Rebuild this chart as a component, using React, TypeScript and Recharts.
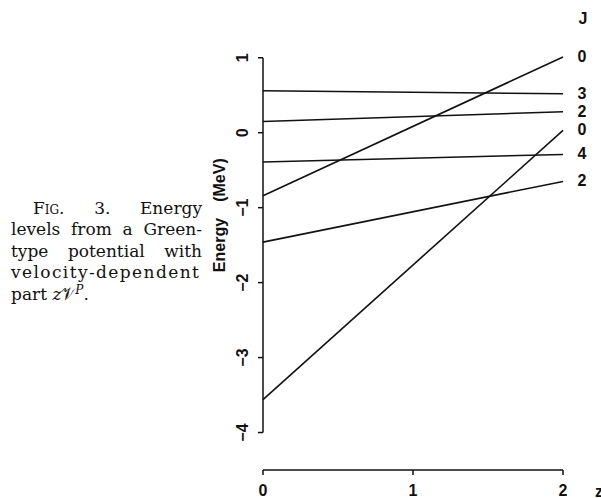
import React from 'react';
import { LineChart, Line, XAxis, YAxis, ReferenceLine } from 'recharts';

const zValues = [0, 2];
const levelJ0a = [-0.84, 1.01];
const levelJ3 = [0.56, 0.52];
const levelJ2a = [0.15, 0.28];
const levelJ0b = [-3.56, 0.03];
const levelJ4 = [-0.39, -0.29];
const levelJ2b = [-1.46, -0.65];
const jLabels = ['0', '3', '2', '0', '4', '2'];
const seriesKeys = ['s0', 's1', 's2', 's3', 's4', 's5'];
const seriesValues = [levelJ0a, levelJ3, levelJ2a, levelJ0b, levelJ4, levelJ2b];
const xTicks = [0, 1, 2];
const yTicks = [1, 0, -1, -2, -3, -4];

const data = zValues.map((z, i) => {
  const row: Record<string, number> = { z };
  seriesKeys.forEach((k, s) => {
    row[k] = seriesValues[s][i];
  });
  return row;
});

const tickFont = '"Liberation Sans", Arial, sans-serif';
const serifFont = '"DejaVu Serif", "Liberation Serif", serif';

const YTick = (props: any) => {
  const { x, y, payload } = props;
  const bx = x - 8;
  return (
    <text
      x={bx}
      y={y}
      transform={`rotate(-90, ${bx}, ${y})`}
      textAnchor="middle"
      fontFamily={tickFont}
      fontSize={16}
      fontWeight="bold"
      fill="#111"
    >
      {payload.value < 0 ? '\u2212' + Math.abs(payload.value) : String(payload.value)}
    </text>
  );
};

const XTick = (props: any) => {
  const { x, y, payload } = props;
  return (
    <text x={x} y={y + 19} textAnchor="middle" fontFamily={tickFont} fontSize={16} fontWeight="bold" fill="#111">
      {String(payload.value)}
    </text>
  );
};

const makeEndLabel = (txt: string) => (props: any) => {
  const { x, y, index } = props;
  if (index !== 1) return null;
  return (
    <text x={x + 19} y={y + 5} textAnchor="middle" fontFamily={tickFont} fontSize={16} fontWeight="bold" fill="#111">
      {txt}
    </text>
  );
};

const captionLine = (extra: React.CSSProperties): React.CSSProperties => ({
  position: 'absolute',
  left: 11,
  width: 191,
  height: 21.5,
  lineHeight: '21.5px',
  fontFamily: serifFont,
  fontSize: 17,
  color: '#111',
  textAlign: 'justify',
  textAlignLast: 'justify',
  whiteSpace: 'nowrap',
  ...extra,
});

export default function App() {
  return (
    <div style={{ position: 'absolute', left: 0, top: 0, width: 601, height: 498, background: '#fff', overflow: 'hidden' }}>
      <LineChart width={601} height={498} data={data} margin={{ top: 57, right: 38, left: 0, bottom: 0 }}>
        <XAxis
          dataKey="z"
          type="number"
          domain={[0, 2]}
          ticks={xTicks}
          height={28}
          tickSize={5}
          tick={<XTick />}
          axisLine={{ stroke: '#111', strokeWidth: 1.5 }}
          tickLine={{ stroke: '#111', strokeWidth: 1.5 }}
        />
        <YAxis
          type="number"
          domain={[-4.5, 1]}
          ticks={yTicks}
          width={263}
          tickSize={5}
          tickMargin={2}
          tick={<YTick />}
          axisLine={false}
          tickLine={{ stroke: '#111', strokeWidth: 1.5 }}
        />
        <ReferenceLine
          segment={[{ x: 0, y: -4 }, { x: 0, y: 1 }]}
          stroke="#111"
          strokeWidth={1.5}
          ifOverflow="visible"
        />
        {seriesKeys.map((k, i) => (
          <Line
            key={k}
            dataKey={k}
            type="linear"
            stroke="#111"
            strokeWidth={1.6}
            dot={false}
            activeDot={false}
            isAnimationActive={false}
            label={makeEndLabel(jLabels[i])}
          />
        ))}
      </LineChart>
      <svg width={601} height={498} style={{ position: 'absolute', left: 0, top: 0, pointerEvents: 'none' }}>
        <text x={225} y={245} transform="rotate(-90, 225, 245)" textAnchor="middle" fontFamily={tickFont} fontSize={16} fontWeight="bold" fill="#111">
          Energy
        </text>
        <text x={225} y={180} transform="rotate(-90, 225, 180)" textAnchor="middle" fontFamily={tickFont} fontSize={16} fontWeight="bold" fill="#111">
          (MeV)
        </text>
        <text x={583} y={24} textAnchor="middle" fontFamily={tickFont} fontSize={16} fontWeight="bold" fill="#111">
          J
        </text>
        <text x={595} y={497} fontFamily={tickFont} fontSize={16} fontWeight="bold" fill="#111">
          z
        </text>
      </svg>
      <div style={captionLine({ top: 197.5, left: 33, width: 169 })}>
        <span style={{ fontVariant: 'small-caps' }}>Fig.</span> 3. Energy
      </div>
      <div style={captionLine({ top: 219 })}>levels from a Green-</div>
      <div style={captionLine({ top: 240.5 })}>type potential with</div>
      <div style={captionLine({ top: 262, letterSpacing: 1.4 })}>velocity-dependent</div>
      <div style={captionLine({ top: 283.5, textAlign: 'left', textAlignLast: 'left' })}>
        part <i>z</i>𝒱<sup style={{ fontSize: 12, fontStyle: 'italic', lineHeight: 0, verticalAlign: 6 }}>P</sup>.
      </div>
    </div>
  );
}
